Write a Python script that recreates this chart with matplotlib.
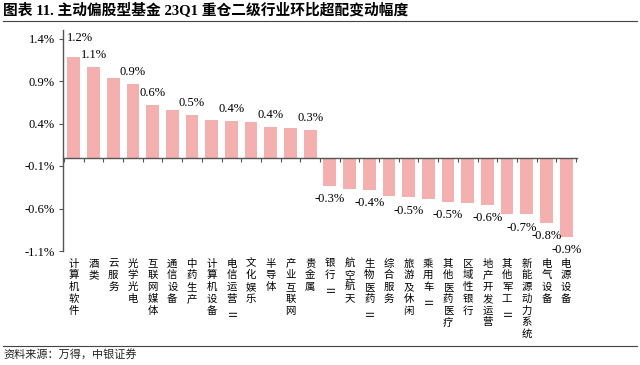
import matplotlib
matplotlib.use('Agg')
import matplotlib.pyplot as plt
import numpy as np
from matplotlib.transforms import blended_transform_factory

# Datos: industrias (nivel 2) y variacion de sobreponderacion 23Q1 (%)
hangye = ['计算机软件', '酒类', '云服务', '光学光电', '互联网媒体', '通信设备', '中药生产',
          '计算机设备', '电信运营Ⅱ', '文化娱乐', '半导体', '产业互联网', '贵金属',
          '银行Ⅱ', '航空航天', '生物医药Ⅱ', '综合服务', '旅游及休闲', '乘用车Ⅱ',
          '其他医药医疗', '区域性银行', '地产开发运营', '其他军工Ⅱ', '新能源动力系统',
          '电气设备', '电源设备']
fudu = [1.18, 1.06, 0.94, 0.87, 0.62, 0.56, 0.50, 0.44, 0.43, 0.42, 0.36, 0.35, 0.32,
        -0.34, -0.37, -0.38, -0.45, -0.47, -0.49, -0.52, -0.54, -0.56, -0.66, -0.67,
        -0.77, -0.93]
etiquetas = ['1.2%', '1.1%', None, '0.9%', '0.6%', None, '0.5%', None, '0.4%', None,
             '0.4%', None, '0.3%', '-0.3%', None, '-0.4%', None, '-0.5%', None, '-0.5%',
             None, '-0.6%', None, '-0.7%', '-0.8%', '-0.9%']
yticks = [-1.1, -0.6, -0.1, 0.4, 0.9, 1.4]

titulo = '图表 11. 主动偏股型基金 23Q1 重仓二级行业环比超配变动幅度'
fuente = '资料来源：万得，中银证券'

W, H = 640, 365
color_barra = '#F4AFAF'
color_eje = '#555555'
fam_num = 'Liberation Serif'
fam_cjk = 'Noto Sans CJK SC'

fig = plt.figure(figsize=(W / 100, H / 100), dpi=100)
ax = fig.add_axes([63 / W, 1 - 251 / H, 514 / W, 221 / H])

x = np.arange(len(hangye))
ax.bar(x, fudu, width=0.65, color=color_barra, zorder=2)
ax.set_xlim(-0.55, len(hangye) - 0.45)
ax.set_ylim(-1.1, 1.5)

ax.set_yticks(yticks)
ax.set_yticklabels(['%.1f%%' % v for v in yticks], family=fam_num, fontsize=9)
ax.set_xticks(np.arange(-0.5, len(hangye), 1))
ax.tick_params(axis='x', direction='out', length=3, labelbottom=False, color=color_eje)
ax.tick_params(axis='y', direction='out', length=3, pad=3, color=color_eje)

for s in ['top', 'right']:
    ax.spines[s].set_visible(False)
ax.spines['bottom'].set_position(('data', 0))
for s in ['left', 'bottom']:
    ax.spines[s].set_color(color_eje)
    ax.spines[s].set_linewidth(1.0)

# etiquetas de valor (la primera va corrida a la derecha, la de -0.7% un poco a la izquierda)
for i, (v, t) in enumerate(zip(fudu, etiquetas)):
    if t is None:
        continue
    dx = 0
    if i == 0:
        dx, dy = 4.7, 13.7
    elif v > 0:
        dy = 8.6
    else:
        dy = -9.4
    if t == '-0.7%':
        dx = -3.5
    ax.annotate(t, (i, v), xytext=(dx, dy), textcoords='offset points',
                ha='center', va='center', fontsize=9, family=fam_num)

# nombres de industria en vertical, un caracter por linea
trans = blended_transform_factory(ax.transData, ax.transAxes)
for i, nombre in enumerate(hangye):
    for k, ch in enumerate(nombre):
        ax.annotate(ch, (i, 0), xycoords=trans,
                    xytext=(0, -(12.5 + 11.8 * k) * 0.72), textcoords='offset points',
                    ha='center', va='center', fontsize=7.5, family=fam_cjk,
                    rotation=90 if ch == 'Ⅱ' else 0, annotation_clip=False)

# titulo, lineas y fuente
fig.text(3 / W, 1 - 9.5 / H, titulo, fontsize=10.6, fontweight='bold',
         family=[fam_num, fam_cjk], va='center', ha='left')
fig.add_artist(plt.Line2D([3 / W, 637 / W], [1 - 20.5 / H] * 2,
                          transform=fig.transFigure, color='#444444', lw=0.8))
fig.add_artist(plt.Line2D([3 / W, 637 / W], [1 - 346 / H] * 2,
                          transform=fig.transFigure, color='#444444', lw=0.8))
fig.text(3 / W, 1 - 354 / H, fuente, fontsize=8, family=fam_cjk,
         style='italic', va='center', ha='left', color='#222222')

fig.savefig('out.png', dpi=100)
